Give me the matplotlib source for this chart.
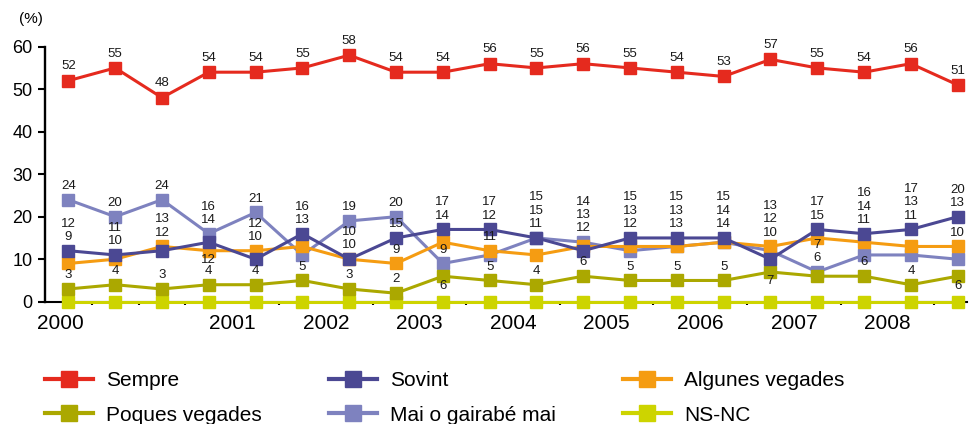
import numpy as np
import matplotlib.pyplot as plt

plt.rcParams['font.family'] = ['Liberation Sans', 'DejaVu Sans']

# percentages, 20 survey waves 2000-2008
sempre  = [52, 55, 48, 54, 54, 55, 58, 54, 54, 56, 55, 56, 55, 54, 53, 57, 55, 54, 56, 51]
sovint  = [12, 11, 12, 14, 10, 16, 10, 15, 17, 17, 15, 12, 15, 15, 15, 10, 17, 16, 17, 20]
algunes = [9, 10, 13, 12, 12, 13, 10, 9, 14, 12, 11, 13, 13, 13, 14, 13, 15, 14, 13, 13]
poques  = [3, 4, 3, 4, 4, 5, 3, 2, 6, 5, 4, 6, 5, 5, 5, 7, 6, 6, 4, 6]
mai     = [24, 20, 24, 16, 21, 11, 19, 20, 9, 11, 15, 14, 12, 13, 14, 12, 7, 11, 11, 10]
nsnc    = [0] * 20

years = ['2000', '2001', '2002', '2003', '2004', '2005', '2006', '2007', '2008']
year_pos = [-0.17, 3.5, 5.5, 7.5, 9.5, 11.5, 13.5, 15.5, 17.5]

# where the value labels sit: "anchor:labels" (top-down), trailing "-" = below
label_layout = [
    "M:M S:SA P:P", "M:M S:SA P:P", "M:M A:AS P:P", "M:MS A:A- P:P",
    "M:M A:AS P:P", "S:SA P:P", "M:M S:SA P:P", "M:M S:S A:A P:P",
    "S:SA M:M P:P-", "S:SA A:M P:P", "M:MSA P:P", "M:MAS P:P",
    "S:SAM P:P", "S:SAM P:P", "S:SAM P:P", "A:AMS P:P-",
    "S:SA M:MP", "S:SAM P:P", "S:SAM P:P", "S:SA A:M P:P-",
]

x = np.arange(len(sempre))

fig = plt.figure(figsize=(9.69, 4.24), dpi=100)
ax = fig.add_axes([0.0464, 0.2884, 0.9516, 0.6015])

styles = [
    ('NS-NC', nsnc, '#CDD400'),
    ('Mai o gairabé mai', mai, '#7E82BF'),
    ('Poques vegades', poques, '#ABA800'),
    ('Algunes vegades', algunes, '#F59C12'),
    ('Sovint', sovint, '#4B4893'),
    ('Sempre', sempre, '#E52A1E'),
]
handles = {}
for z, (name, vals, col) in enumerate(styles):
    ln, = ax.plot(x, vals, color=col, lw=2.2, marker='s', ms=8,
                  clip_on=False, zorder=3 + z * 0.1, label=name)
    handles[name] = ln

ax.set_xlim(-0.5, 19.2)
ax.set_ylim(0, 60)
for s in ['top', 'right']:
    ax.spines[s].set_visible(False)
ax.spines['left'].set_linewidth(1.7)
ax.spines['bottom'].set_linewidth(1.5)

ax.set_yticks(range(0, 61, 10))
ax.tick_params(axis='y', direction='out', length=5, width=1.5, labelsize=13, pad=4)
ax.set_xticks(year_pos)
ax.set_xticklabels(years)
ax.tick_params(axis='x', which='major', length=0, labelsize=15, pad=9)
ax.set_xticks(np.arange(0.5, 19, 1), minor=True)
ax.tick_params(axis='x', which='minor', direction='out', length=2.2, width=1.5)

txt = dict(ha='center', fontsize=9.5, color='#1a1a1a', textcoords='offset points',
           annotation_clip=False, zorder=5)
for i, v in enumerate(sempre):
    ax.annotate(str(v), (i, v), xytext=(0, 8.2), va='baseline', **txt)

series = {'S': sovint, 'A': algunes, 'P': poques, 'M': mai}
for i, spec in enumerate(label_layout):
    for token in spec.split():
        anchor, names = token.split(':')
        yv = series[anchor][i]
        if names.endswith('-'):
            nm = names[0]
            ax.annotate(str(series[nm][i]), (i, yv), xytext=(0, -2.5), va='top', **txt)
            continue
        n = len(names)
        for k, nm in enumerate(names):
            dy = 7.8 + (n - 1 - k) * 9.6
            ax.annotate(str(series[nm][i]), (i, yv), xytext=(0, dy), va='baseline', **txt)

fig.text(31 / 969, 1 - 19 / 424, '(%)', ha='center', va='center', fontsize=11)

order = ['Sempre', 'Poques vegades', 'Sovint', 'Mai o gairabé mai', 'Algunes vegades', 'NS-NC']
leg = fig.legend([handles[o] for o in order], order, loc='upper left',
                 bbox_to_anchor=(45 / 969, 0.125), ncol=3, frameon=False, fontsize=15,
                 handlelength=2.3, handletextpad=0.65, columnspacing=3.2,
                 labelspacing=0.75, borderpad=0, borderaxespad=0, markerscale=1.5)
for l in leg.get_lines():
    l.set_linewidth(3)

fig.savefig('out.png', dpi=100)
